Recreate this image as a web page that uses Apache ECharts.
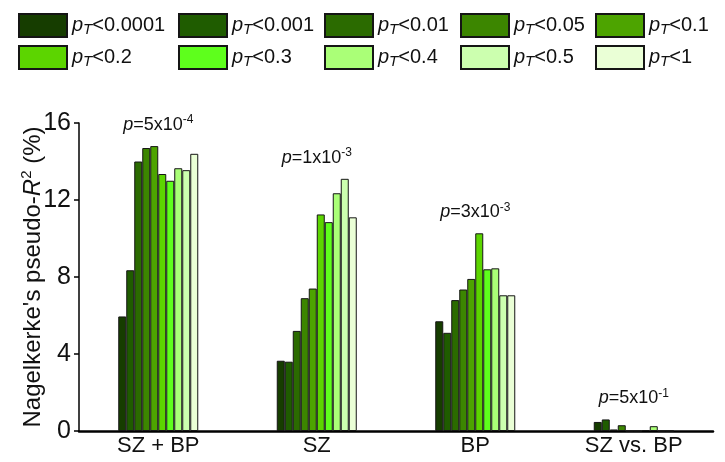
<!DOCTYPE html>
<html>
<head>
<meta charset="utf-8">
<script src="https://cdn.jsdelivr.net/npm/echarts@6/dist/echarts.min.js"></script>
<style>
  html, body { margin: 0; padding: 0; background: #fff; }
  #chart { width: 725px; height: 462px; }
</style>
</head>
<body>
<div id="chart"></div>
<script>
// groups on the x axis
var categories = ["SZ + BP", "SZ", "BP", "SZ vs. BP"];
// p-value thresholds (one bar per threshold in each group)
var thresholds = ["<0.0001", "<0.001", "<0.01", "<0.05", "<0.1", "<0.2", "<0.3", "<0.4", "<0.5", "<1"];
var colors = ["#163d00", "#1f5c00", "#2b6b00", "#3c8600", "#4da400", "#5cd500", "#5eff1c", "#aaff77", "#ccffaf", "#eaffd6"];

// Nagelkerke's pseudo-R2 (%) per group, by threshold
var szbp = [5.95, 8.35, 14.0, 14.7, 14.8, 13.35, 13.0, 13.65, 13.55, 14.4];
var sz = [3.65, 3.6, 5.2, 6.9, 7.4, 11.25, 10.85, 12.35, 13.1, 11.1];
var bp = [5.7, 5.1, 6.8, 7.35, 7.9, 10.27, 8.4, 8.45, 7.05, 7.05];
var szvsbp = [0.47, 0.6, 0.08, 0.3, 0, 0, 0.05, 0.25, 0, 0];

// best p per group, written as mantissa x 10^exp
var pMant = ["5", "1", "3", "5"];
var pExp = ["-4", "-3", "-3", "-1"];

var yTicks = [0, 4, 8, 12, 16];

var groups = [szbp, sz, bp, szvsbp];
var font = "Liberation Sans, Arial, sans-serif";

var series = thresholds.map(function (t, i) {
  return {
    name: "pT" + t,
    type: "bar",
    barWidth: 8,
    barGap: "0%",
    itemStyle: { color: colors[i], borderColor: "#151515", borderWidth: 1 },
    data: groups.map(function (g) { return g[i]; })
  };
});

// p-value annotations above each group
series.push({
  name: "pval",
  type: "scatter",
  symbolSize: 0,
  z: 10,
  silent: true,
  itemStyle: { opacity: 1 },
  data: groups.map(function (g) { return Math.max.apply(null, g); }),
  label: {
    show: true,
    position: "top",
    distance: 10,
    color: "#111",
    opacity: 1,
    formatter: function (p) {
      return "{i|p}{n|=" + pMant[p.dataIndex] + "x10}{s|" + pExp[p.dataIndex] + "}";
    },
    rich: {
      i: { fontFamily: font, fontSize: 18, fontStyle: "italic", color: "#111", lineHeight: 22 },
      n: { fontFamily: font, fontSize: 18, color: "#111", lineHeight: 22 },
      s: { fontFamily: font, fontSize: 12, color: "#111", lineHeight: 12, verticalAlign: "top" }
    }
  }
});

var legendRich = {
  p: { fontFamily: font, fontSize: 20, fontStyle: "italic", color: "#111", lineHeight: 24 },
  t: { fontFamily: font, fontSize: 15, fontStyle: "italic", color: "#111", lineHeight: 14, verticalAlign: "bottom" },
  n: { fontFamily: font, fontSize: 20, color: "#111", lineHeight: 24 }
};
var legendLeft = [13, 173, 319, 455, 590];
var legends = legendLeft.map(function (x, c) {
  return {
    left: x,
    top: 8,
    orient: "vertical",
    itemWidth: 48,
    itemHeight: 23,
    itemGap: 7,
    icon: "rect",
    selectedMode: false,
    data: ["pT" + thresholds[c], "pT" + thresholds[c + 5]],
    formatter: function (name) {
      return "{p|p}{t|T}{n|" + name.slice(2) + "}";
    },
    textStyle: { rich: legendRich }
  };
});

var option = {
  animation: false,
  backgroundColor: "#fff",
  legend: legends,
  grid: { left: 79, right: 12, top: 123, bottom: 31, containLabel: false },
  xAxis: {
    type: "category",
    data: categories,
    axisLine: { lineStyle: { color: "#000", width: 2.5 } },
    axisTick: { show: false },
    axisLabel: { color: "#111", fontFamily: font, fontSize: 22, margin: 4 }
  },
  yAxis: {
    type: "value",
    min: yTicks[0],
    max: yTicks[yTicks.length - 1],
    interval: 4,
    name: "{a|Nagelkerke's pseudo-}{r|R}{s|2}{a| (%)}",
    nameLocation: "middle",
    nameGap: 32,
    nameMoveOverlap: false,
    nameRotate: 90,
    nameTextStyle: {
      rich: {
        a: { fontFamily: font, fontSize: 24, color: "#111", lineHeight: 28 },
        r: { fontFamily: font, fontSize: 24, fontStyle: "italic", color: "#111", lineHeight: 28 },
        s: { fontFamily: font, fontSize: 15, color: "#111", lineHeight: 14, verticalAlign: "top" }
      }
    },
    axisLine: { show: true, lineStyle: { color: "#000", width: 1.5 } },
    axisTick: { show: true, inside: false, length: 5, lineStyle: { color: "#000", width: 1.5 } },
    axisLabel: { color: "#111", fontFamily: font, fontSize: 25, margin: 8 },
    splitLine: { show: false }
  },
  series: series
};

var myChart = echarts.init(document.getElementById("chart"));
myChart.setOption(option, true);
window.onresize = myChart.resize;
</script>
</body>
</html>
